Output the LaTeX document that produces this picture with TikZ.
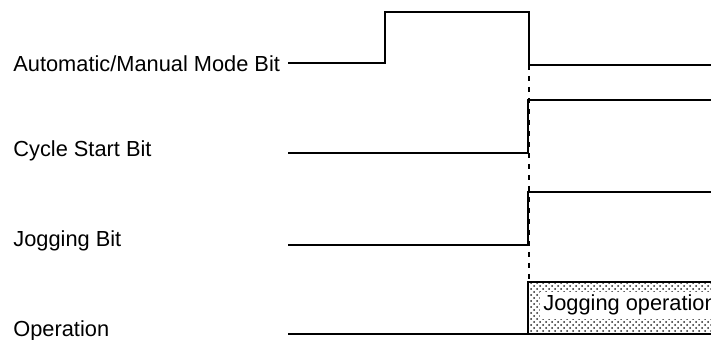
\documentclass[tikz,border=0pt]{standalone}
\usepackage{fontspec}
\setmainfont{Liberation Sans}
\usetikzlibrary{patterns}
\tikzset{
  signal/.style={line width=0.9pt, line join=miter},
  siglabel/.style={anchor=base west, inner sep=0pt, font=\fontsize{10.9}{13}\selectfont},
  guide/.style={line width=0.6pt, dash pattern=on 2.5pt off 3pt}
}
\begin{document}
\begin{tikzpicture}[x=0.5pt, y=-0.5pt]
\useasboundingbox (0,0) rectangle (711,340);

% Signal names
\node[siglabel] (lblAuto)  at (13,72)  {Automatic/Manual Mode Bit};
\node[siglabel] (lblCycle) at (13,157) {Cycle Start Bit};
\node[siglabel] (lblJog)   at (13,247) {Jogging Bit};
\node[siglabel] (lblOp)    at (13,337) {Operation};

% Operation area
\fill[pattern=crosshatch dots, pattern color=black!85] (528,282) rectangle (720,334);
\draw[signal] (720,282) -- (528,282) -- (528,334);
\node[siglabel, fill=white, inner sep=1.5pt] (opText) at (540,311) {Jogging operation};

% Waveforms
\draw[signal] (288,63) -- (385,63) -- (385,12) -- (529,12) -- (529,65) -- (720,65);
\draw[signal] (288,153) -- (528,153) -- (528,100) -- (720,100);
\draw[signal] (288,245) -- (528,245) -- (528,192) -- (720,192);
\draw[signal] (288,334) -- (720,334);

% Timing guide
\draw[guide] (529,65) -- (529,282);
\end{tikzpicture}
\end{document}
